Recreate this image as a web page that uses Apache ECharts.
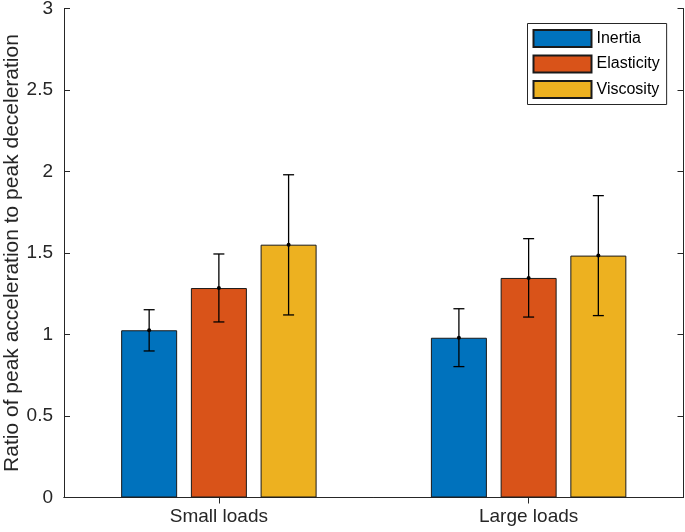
<!DOCTYPE html>
<html><head><meta charset="utf-8">
<script src="https://cdn.jsdelivr.net/npm/echarts@6/dist/echarts.min.js"></script>
<style>html,body{margin:0;padding:0;background:#fff}#c{width:685px;height:532px}</style>
</head><body><div id="c"></div>
<script>
// ---- data ----
const categories = ['Small loads', 'Large loads'];
const seriesNames = ['Inertia', 'Elasticity', 'Viscosity'];
const inertia = [1.026, 0.980];
const elasticity = [1.285, 1.347];
const viscosity = [1.551, 1.484];
const inertiaLow = [0.899, 0.803];
const inertiaHigh = [1.152, 1.158];
const elasticityLow = [1.077, 1.107];
const elasticityHigh = [1.494, 1.588];
const viscosityLow = [1.120, 1.116];
const viscosityHigh = [1.980, 1.852];
const yLabel = 'Ratio of peak acceleration to peak deceleration';

// ---- style ----
const FONT = '"Liberation Sans", Arial, Helvetica, sans-serif';
const colors = ['#0072BD', '#D95319', '#EDB120'];
const AXIS = '#262626';
const BAR_W = 56;
const BAR_GAP = 0.245;
const CAP = 5.5;

const means = [inertia, elasticity, viscosity];
const lows = [inertiaLow, elasticityLow, viscosityLow];
const highs = [inertiaHigh, elasticityHigh, viscosityHigh];

const chart = echarts.init(document.getElementById('c'), null, {renderer: 'canvas'});

const barSeries = seriesNames.map((n, i) => ({
  name: n, type: 'bar', xAxisIndex: 0, yAxisIndex: 0,
  data: means[i], barWidth: BAR_W, barGap: (BAR_GAP * 100) + '%',
  itemStyle: {color: colors[i], borderColor: '#1a1a1a', borderWidth: 1},
  emphasis: {disabled: true}, animation: false
}));

const errSeries = seriesNames.map((n, i) => ({
  name: n + ' err', type: 'custom', xAxisIndex: 0, yAxisIndex: 0, z: 10, silent: true,
  animation: false,
  data: categories.map((c, k) => [k, lows[i][k], highs[i][k], means[i][k]]),
  encode: {x: 0, y: [1, 2, 3]},
  renderItem(params, api) {
    const off = (i - 1) * BAR_W * (1 + BAR_GAP);
    const pL = api.coord([api.value(0), api.value(1)]);
    const pH = api.coord([api.value(0), api.value(2)]);
    const pM = api.coord([api.value(0), api.value(3)]);
    const x = pL[0] + off;
    const st = {stroke: '#000', lineWidth: 1.3, fill: null};
    return {type: 'group', children: [
      {type: 'line', shape: {x1: x, y1: pL[1], x2: x, y2: pH[1]}, style: st},
      {type: 'line', shape: {x1: x - CAP, y1: pL[1], x2: x + CAP, y2: pL[1]}, style: st},
      {type: 'line', shape: {x1: x - CAP, y1: pH[1], x2: x + CAP, y2: pH[1]}, style: st},
      {type: 'circle', shape: {cx: x, cy: pM[1], r: 2}, style: {fill: '#000'}}
    ]};
  }
}));

const axisLine = {show: true, lineStyle: {color: AXIS, width: 1}};
const tick = {show: true, inside: true, length: 6, lineStyle: {color: AXIS, width: 1}};

chart.setOption({
  animation: false,
  backgroundColor: '#fff',
  grid: {left: 64, right: 1.5, top: 8.5, bottom: 34.5, containLabel: false, outerBoundsMode: 'none'},
  xAxis: [
    {type: 'category', data: categories, position: 'bottom',
     axisLine, axisTick: Object.assign({alignWithLabel: true}, tick),
     axisLabel: {color: AXIS, fontSize: 19, fontFamily: FONT, margin: 10},
     splitLine: {show: false}},
    {type: 'category', data: categories, position: 'top',
     axisLine, axisTick: Object.assign({alignWithLabel: true}, tick),
     axisLabel: {show: false}, splitLine: {show: false}}
  ],
  yAxis: [
    {type: 'value', min: 0, max: 3, interval: 0.5, position: 'left',
     axisLine, axisTick: tick,
     axisLabel: {color: AXIS, fontSize: 19, fontFamily: FONT, margin: 11},
     splitLine: {show: false},
     name: yLabel, nameLocation: 'middle', nameGap: 41, nameRotate: 90,
     nameMoveOverlap: false,
     nameTextStyle: {color: AXIS, fontSize: 21, fontFamily: FONT}},
    {type: 'value', min: 0, max: 3, interval: 0.5, position: 'right',
     axisLine, axisTick: tick, axisLabel: {show: false}, splitLine: {show: false}}
  ],
  legend: {
    data: seriesNames, orient: 'vertical', left: 527.5, top: 23.5,
    itemWidth: 58, itemHeight: 17, itemGap: 6.5, icon: 'rect',
    padding: [5.5, 7, 5.5, 5], borderColor: AXIS, borderWidth: 1, backgroundColor: '#fff',
    textStyle: {color: '#000', fontSize: 16, fontFamily: FONT},
    selectedMode: false
  },
  series: barSeries.concat(errSeries)
});
</script></body></html>
